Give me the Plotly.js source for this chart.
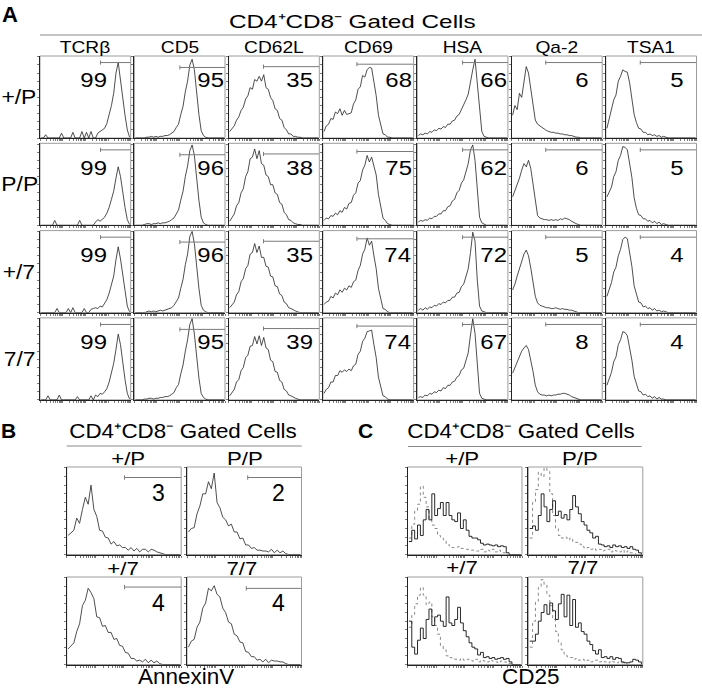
<!DOCTYPE html>
<html><head><meta charset="utf-8">
<script src="https://cdn.plot.ly/plotly-3.0.1.min.js"></script>
<style>html,body{margin:0;padding:0;background:#fff}#chart{width:702px;height:691px}</style>
</head><body><div id="chart"></div>
<script>
// ---------------- DATA ----------------
const BIN_X = [0.05,0.15,0.25,0.35,0.45,0.55,0.65,0.75,0.85,0.95,1.05,1.15,1.25,1.35,1.45,1.55,1.65,1.75,1.85,1.95,
               2.05,2.15,2.25,2.35,2.45,2.55,2.65,2.75,2.85,2.95,3.05,3.15,3.25,3.35,3.45,3.55,3.65,3.75,3.85,3.95];

const MARKERS_A = ["TCRβ","CD5","CD62L","CD69","HSA","Qa-2","TSA1"];
const GENOTYPES = ["+/P","P/P","+/7","7/7"];
const PCT_A = [[99,95,35,68,66,6,5],[99,96,38,75,62,6,5],[99,96,35,74,72,5,4],[99,95,39,74,67,8,4]];
const GATE_START_A = [2.67,2.01,1.54,1.50,2.00,1.51,1.52];

const TCRB_HIST = [
 [0,0,4,0,0,0,0,0,0,6, 0,0,0,0,7,0,0,0,8,0, 7,0,8,0,0,6,8,10,12,18, 28,40,55,80,93,70,48,28,10,1],
 [0,0,0,0,0,0,6,0,0,0, 0,0,0,0,0,0,0,6,0,0, 0,0,0,0,4,7,5,8,10,15, 22,32,42,58,72,60,40,22,7,1],
 [0,0,0,0,0,0,0,5,0,0, 0,0,5,0,6,0,0,0,0,5, 0,0,4,5,6,5,8,7,12,16, 24,34,45,65,81,66,45,24,8,1],
 [0,0,0,5,0,0,0,0,6,0, 0,0,0,0,0,0,4,0,0,0, 0,0,5,0,6,4,8,7,10,14, 22,33,45,62,81,68,45,25,8,1]];
const CD5_HIST = [
 [0,0,0,0,0,1,1,2,1,2, 1,2,2,3,3,4,6,8,13,17, 29,39,57,70,90,97,84,53,29,9, 3,1,0,0,0,0,0,0,0,0],
 [0,0,0,0,1,2,2,1,2,2, 3,2,3,3,4,5,7,9,14,19, 31,42,60,73,92,99,86,57,31,10, 3,1,0,0,0,0,0,0,0,0],
 [0,0,0,0,0,1,2,1,2,1, 2,3,2,3,4,5,6,9,13,18, 30,41,59,72,94,100,85,55,30,9, 3,1,0,0,0,0,0,0,0,0],
 [0,0,0,0,1,1,2,2,1,2, 2,3,3,4,4,5,7,9,15,19, 32,43,60,74,93,100,81,51,27,8, 3,1,0,0,0,0,0,0,0,0]];
const CD62L_HIST = [
 [8,12,15,22,26,34,38,48,52,62, 60,72,70,76,70,78,62,60,50,46, 36,34,24,22,13,10,5,5,2,2, 1,1,0,0,0,0,0,0,0,0],
 [5,10,14,24,28,40,45,60,66,82, 84,94,82,92,76,74,62,60,50,50, 40,38,28,26,16,13,7,6,3,2, 1,1,0,0,0,0,0,0,0,0],
 [6,10,13,22,26,38,42,54,58,72, 74,85,74,82,68,68,57,56,45,44, 33,32,23,21,13,11,6,5,3,2, 1,0,0,0,0,0,0,0,0,0],
 [5,9,13,22,25,36,40,52,55,66, 67,78,69,79,67,77,64,62,49,47, 35,34,24,22,13,11,6,5,3,2, 1,0,0,0,0,0,0,0,0,0]];
const CD69_HIST = [
 [8,15,17,24,23,32,30,36,28,34, 29,30,31,42,47,60,63,77,75,84, 87,86,68,52,28,16,5,4,1,1, 0,0,0,0,0,0,0,0,0,0],
 [6,9,8,12,11,15,13,18,16,22, 20,27,28,37,40,52,55,68,74,86, 78,84,73,62,38,24,9,6,2,1, 0,0,0,0,0,0,0,0,0,0],
 [10,13,14,20,18,24,22,28,25,30, 28,33,31,38,40,52,58,72,78,92, 83,88,70,54,30,17,5,4,1,0, 0,0,0,0,0,0,0,0,0,0],
 [8,13,15,22,22,30,30,36,34,37, 35,38,36,42,44,56,60,72,76,84, 85,86,68,52,28,16,5,4,1,0, 0,0,0,0,0,0,0,0,0,0]];
const HSA_HIST = [
 [3,5,4,6,5,8,7,10,9,12, 11,14,13,17,17,21,22,27,29,35, 39,47,54,72,84,97,70,35,8,2, 1,0,0,0,0,0,0,0,0,0],
 [4,6,5,7,6,9,8,11,11,14, 14,18,18,23,24,30,32,40,43,52, 56,68,76,93,99,80,40,10,3,1, 0,0,0,0,0,0,0,0,0,0],
 [3,5,3,6,4,7,6,9,8,11, 10,13,12,15,15,19,19,24,25,32, 35,46,54,74,99,88,40,8,2,1, 0,0,0,0,0,0,0,0,0,0],
 [3,4,3,6,5,8,7,10,9,12, 11,15,14,18,18,22,23,28,30,37, 39,50,58,80,100,82,38,8,2,1, 0,0,0,0,0,0,0,0,0,0]];
const QA2_HIST = [
 [28,40,35,55,50,70,88,80,60,40, 22,17,15,12,10,9,8,7,7,6, 6,5,5,4,4,3,3,2,1,1, 0,0,0,0,0,0,0,0,0,0],
 [35,42,50,58,68,76,72,80,70,52, 30,12,9,8,7,7,6,7,6,7, 6,8,7,9,8,7,5,3,2,1, 0,0,0,0,0,0,0,0,0,0],
 [28,35,45,55,62,72,77,70,55,38, 20,12,9,8,7,6,6,5,5,6, 5,4,5,4,4,3,3,2,1,0, 0,0,0,0,0,0,0,0,0,0],
 [33,40,48,55,60,64,67,62,50,35, 18,10,7,6,6,5,6,5,6,6, 7,7,8,8,7,6,4,3,2,1, 0,0,0,0,0,0,0,0,0,0]];
const TSA1_HIST = [
 [12,23,33,47,53,70,76,84,82,81, 68,51,29,19,12,11,7,7,4,5, 3,4,2,3,1,2,1,0,0,0, 0,0,0,0,0,0,0,0,0,0],
 [35,41,47,60,66,80,86,97,96,93, 78,59,34,21,13,12,8,8,5,6, 3,5,2,4,1,2,1,0,0,0, 0,0,0,0,0,0,0,0,0,0],
 [20,29,37,50,56,70,78,90,93,91, 76,57,33,21,13,12,7,8,5,6, 3,5,2,3,1,2,1,0,0,0, 0,0,0,0,0,0,0,0,0,0],
 [18,27,34,47,53,68,74,84,83,79, 64,49,29,19,11,10,6,7,4,5, 2,4,1,3,1,1,0,0,0,0, 0,0,0,0,0,0,0,0,0,0]];

const GENOTYPES_BC = ["+/P","P/P","+/7","7/7"];
const PCT_B = [3,2,4,4];
const GATE_START_B = [2.02,2.12,2.02,2.07];
const ANNEXIN_HIST = [
 [22,25,28,42,36,52,66,58,80,52, 44,28,27,20,19,12,15,10,11,8, 8,5,8,4,7,3,6,6,3,6, 5,3,2,1,0,0,0,0,0,0],
 [26,30,31,47,56,70,70,84,76,94, 60,54,43,40,33,35,26,26,18,19, 11,11,7,8,5,5,4,4,3,6, 2,5,2,4,1,0,0,0,0,0],
 [18,22,25,38,47,68,74,88,83,76, 55,54,44,45,37,37,29,30,22,21, 14,13,7,7,4,5,3,6,2,5, 2,4,1,0,0,0,0,0,0,0],
 [20,27,29,43,49,65,71,88,85,91, 81,78,65,60,49,47,35,33,26,25, 15,14,9,9,5,6,3,6,2,5, 4,4,3,3,1,0,0,0,0,0]];
const CD25_STAINED = [
 [15,28,18,34,22,40,52,40,70,45, 53,60,45,60,45,40,38,48,30,40, 28,21,19,19,17,13,11,12,11,10, 11,9,10,9,2,0,0,0,0,0],
 [30,33,28,45,70,55,38,52,62,45, 50,42,46,40,52,68,55,47,38,34, 28,25,19,21,12,11,9,10,8,11, 9,10,8,9,7,9,6,5,2,0],
 [50,20,12,28,42,30,52,64,45,55, 57,50,44,78,48,45,52,66,48,39, 32,25,20,18,11,14,8,9,7,8, 6,7,8,6,7,3,0,0,0,0],
 [27,27,35,50,60,69,58,71,62,52, 70,81,55,80,45,75,43,48,38,35, 27,23,16,12,17,8,9,7,9,6, 8,7,3,2,2,3,6,5,3,0]];
const CD25_CONTROL = [
 [19,35,50,58,79,66,55,40,34,30, 22,20,17,12,10,8,8,9,7,6, 6,5,5,4,4,6,3,5,4,6, 3,5,3,2,0,0,0,0,0,0],
 [19,60,75,95,90,100,96,70,45,30, 22,19,20,17,19,15,14,12,9,7, 8,6,7,5,6,4,5,6,3,5, 4,3,5,2,4,2,1,0,0,0],
 [43,58,70,80,89,80,69,72,55,45, 35,22,17,10,8,7,6,5,7,5, 6,5,4,6,3,5,4,3,5,4, 3,2,4,3,2,1,0,0,0,0],
 [20,50,73,89,98,92,80,68,52,38, 25,17,12,9,8,6,7,5,6,4, 5,3,4,5,3,4,3,2,4,3, 2,3,2,1,0,0,0,0,0,0]];

const HIST_A = [TCRB_HIST, CD5_HIST, CD62L_HIST, CD69_HIST, HSA_HIST, QA2_HIST, TSA1_HIST];
const GATED_TITLE = 'CD4⁺CD8⁻ Gated Cells';

// ---------------- LAYOUT GEOMETRY (pixels) ----------------
const W = 702, H = 691;
const FONT = 'Liberation Sans, Arial, Helvetica, sans-serif';
const A_GEOM = {left0: 40, pitchX: 94.3, w: 90.7, top0: 56, pitchY: 87.3, h: 82};
const A_BAR_FRAC = [0.08, 0.14, 0.13, 0.10, 0.08, 0.08, 0.08];
const A_NUM_REL = [0.585, 0.84, 0.78, 0.83, 0.84, 0.775, 0.78];
const B_LEFTS = [66.7, 187], C_LEFTS = [407.5, 528.3];
const BC_TOPS = [467, 577], BC_W = 114.5, BC_H = 87.5;
const B_BAR_FRAC = [0.12, 0.12, 0.115, 0.13];

const LOG_TICKS = [];
for (let d = 0; d < 4; d++) for (let k = 1; k < 10; k++) LOG_TICKS.push(d + Math.log10(k));
LOG_TICKS.push(4);

const layout = {width: W, height: H, margin: {l:0, r:0, t:0, b:0}, paper_bgcolor: '#fff', plot_bgcolor: '#fff',
  showlegend: false, shapes: [], annotations: [], font: {family: FONT}};
const STRETCH = [];
const traces = [];

function addText(text, cx, cy, size, sx, bold, yanchor) {
  layout.annotations.push({text: text, xref: 'paper', yref: 'paper',
    x: cx / W, y: 1 - cy / H, xanchor: 'center', yanchor: yanchor || 'middle', showarrow: false,
    font: {family: FONT, size: size, color: '#000', weight: bold ? 700 : 400}});
  STRETCH.push(sx || 1);
}
function hline(x0, x1, y) {
  layout.shapes.push({type: 'line', xref: 'paper', yref: 'paper', x0: x0 / W, x1: x1 / W, y0: 1 - y / H, y1: 1 - y / H,
    line: {color: '#8a8a8a', width: 1}});
}
let nAx = 0;
function addCell(left, top, w, h) {
  nAx++;
  const s = nAx === 1 ? '' : String(nAx);
  const common = {showgrid: false, zeroline: false, showline: true, linecolor: '#222', linewidth: 1,
    ticks: 'outside', ticklen: 2, tickwidth: 0.7, tickcolor: '#444', showticklabels: false, fixedrange: true};
  layout['xaxis' + s] = Object.assign({}, common, {domain: [left / W, (left + w) / W], range: [0, 4],
    anchor: 'y' + s, tickmode: 'array', tickvals: LOG_TICKS});
  layout['yaxis' + s] = Object.assign({}, common, {domain: [1 - (top + h) / H, 1 - top / H], range: [0, 101],
    anchor: 'x' + s, tick0: 0, dtick: 10});
  layout.shapes.push({type: 'rect', xref: 'x' + s + ' domain', yref: 'y' + s + ' domain', x0: 0, x1: 1, y0: 0, y1: 1,
    line: {color: '#9c9c9c', width: 1}, layer: 'below'});
  return {xa: 'x' + s, ya: 'y' + s};
}
function addGate(ax, x0, fracTop) {
  const y = 1 - fracTop;
  const ln = {color: '#7a7a7a', width: 1};
  layout.shapes.push({type: 'line', xref: ax.xa, yref: ax.ya + ' domain', x0: x0, x1: 4, y0: y, y1: y, line: ln});
  layout.shapes.push({type: 'line', xref: ax.xa, yref: ax.ya + ' domain', x0: x0, x1: x0, y0: y - 0.025, y1: y + 0.025, line: ln});
}
function addCurve(ax, ys, opts) {
  traces.push(Object.assign({type: 'scatter', mode: 'lines', x: BIN_X, y: ys, xaxis: ax.xa, yaxis: ax.ya,
    hoverinfo: 'skip', line: {color: '#222', width: 0.8}}, opts || {}));
}

// ---------------- PANEL A ----------------
addText('A', 10, 0, 22, 1, true, 'top');
addText(GATED_TITLE, 353, 21.5, 19, 1.28);
hline(40, 702, 35);
for (let c = 0; c < MARKERS_A.length; c++) {
  const left = A_GEOM.left0 + c * A_GEOM.pitchX;
  addText(MARKERS_A[c], left + A_GEOM.w / 2, 47.5, 16, 1.2);
}
for (let r = 0; r < GENOTYPES.length; r++) {
  const top = A_GEOM.top0 + r * A_GEOM.pitchY;
  addText(GENOTYPES[r], 19, top + A_GEOM.h / 2, 19.5, 1.17);
  for (let c = 0; c < MARKERS_A.length; c++) {
    const left = A_GEOM.left0 + c * A_GEOM.pitchX;
    const ax = addCell(left, top, A_GEOM.w, A_GEOM.h);
    addCurve(ax, HIST_A[c][r]);
    addGate(ax, GATE_START_A[c], A_BAR_FRAC[c]);
    addText(String(PCT_A[r][c]), left + A_NUM_REL[c] * A_GEOM.w, top + 0.29 * A_GEOM.h, 21, 1.14);
  }
}

// ---------------- PANEL B ----------------
addText('B', 8.5, 430.5, 21, 1, true);
addText(GATED_TITLE, 182.5, 430.5, 20, 1.12);
hline(66.7, 301.7, 446);
const B_LABEL_POS = [[128.3, 458.3], [245, 458.3], [123.3, 568.3], [241.7, 568.3]];
for (let i = 0; i < 4; i++) {
  const left = B_LEFTS[i % 2], top = BC_TOPS[Math.floor(i / 2)];
  addText(GENOTYPES_BC[i], B_LABEL_POS[i][0], B_LABEL_POS[i][1], 18.5, 1.2);
  const ax = addCell(left, top, BC_W, BC_H);
  addCurve(ax, ANNEXIN_HIST[i]);
  addGate(ax, GATE_START_B[i], B_BAR_FRAC[i]);
  addText(String(PCT_B[i]), left + 0.80 * BC_W, top + 0.30 * BC_H, 23, 1.0);
}
addText('AnnexinV', 186, 691, 22.5, 1.0, false, 'bottom');

// ---------------- PANEL C ----------------
addText('C', 365.8, 430.5, 21, 1, true);
addText(GATED_TITLE, 520.5, 430.5, 20, 1.12);
hline(408, 641.7, 446.5);
const C_LABEL_POS = [[461.7, 458.3], [580, 458.3], [461.7, 567.3], [583.3, 567.3]];
for (let i = 0; i < 4; i++) {
  const left = C_LEFTS[i % 2], top = BC_TOPS[Math.floor(i / 2)];
  addText(GENOTYPES_BC[i], C_LABEL_POS[i][0], C_LABEL_POS[i][1], 18.5, 1.2);
  const ax = addCell(left, top, BC_W, BC_H);
  addCurve(ax, CD25_CONTROL[i], {line: {color: '#8a8a8a', width: 1, dash: 'dot', shape: 'hv'}});
  addCurve(ax, CD25_STAINED[i], {line: {color: '#111', width: 0.9, shape: 'hv'}});
}
addText('CD25', 531, 691, 22.5, 1.0, false, 'bottom');

Plotly.newPlot('chart', traces, layout, {staticPlot: true, displayModeBar: false}).then(function () {
  const groups = document.querySelectorAll('#chart g.annotation');
  groups.forEach(function (g, k) {
    const idx = g.hasAttribute('data-index') ? parseInt(g.getAttribute('data-index'), 10) : k;
    const s = STRETCH[idx];
    if (!s || s === 1) return;
    const t = g.querySelector('text.annotation-text');
    if (!t) return;
    const x = parseFloat(t.getAttribute('x')) || 0;
    t.setAttribute('transform', 'translate(' + x + ',0) scale(' + s + ',1) translate(' + (-x) + ',0)');
  });
});
</script>
</body></html>
